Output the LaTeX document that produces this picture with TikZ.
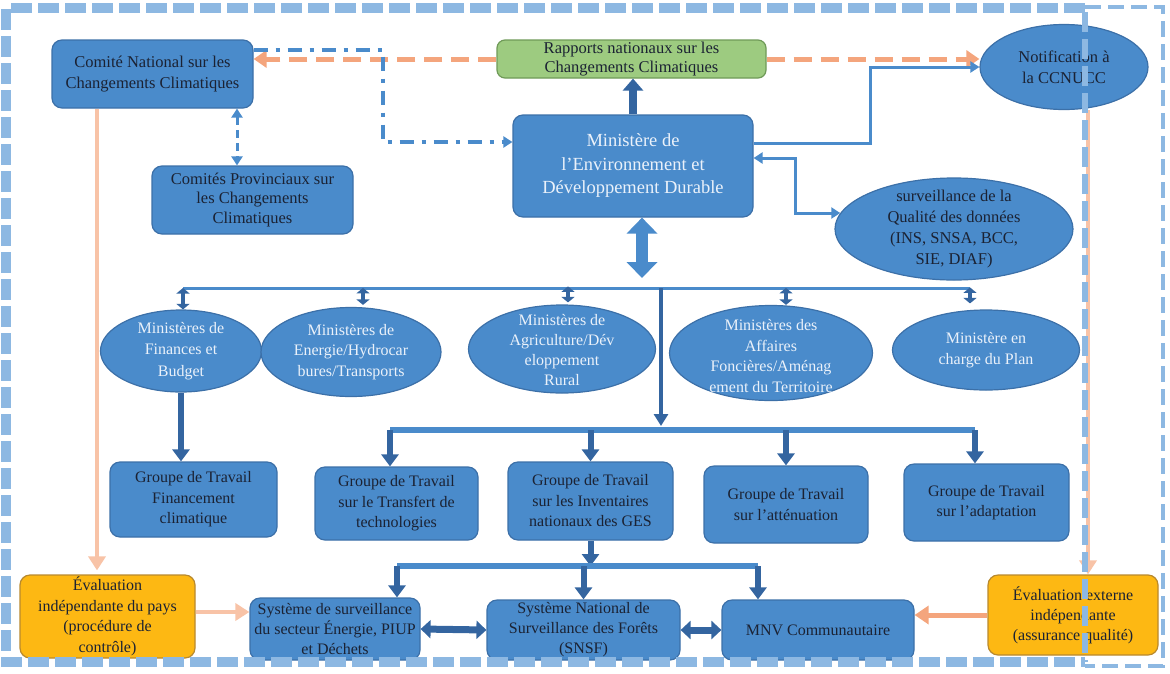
\documentclass[tikz,border=0pt]{standalone}
\usepackage{fontspec}
\setmainfont{Liberation Serif}
\usetikzlibrary{arrows.meta,shapes.geometric,calc}
\definecolor{boxblue}{HTML}{4A8BCB}
\definecolor{boxedge}{HTML}{3C70A8}
\definecolor{arrdark}{HTML}{3465A0}
\definecolor{lineblue}{HTML}{4A8BCB}
\definecolor{greenfill}{HTML}{9DCB80}
\definecolor{greenedge}{HTML}{6F9A58}
\definecolor{orfill}{HTML}{FDB813}
\definecolor{oredge}{HTML}{B8892E}
\definecolor{salmon}{HTML}{F4A57D}
\definecolor{lsalmon}{HTML}{F8C3A7}
\definecolor{framecol}{HTML}{8DB8E2}
\definecolor{tdark}{HTML}{1B2233}
\definecolor{tlight}{HTML}{EAF1FA}
\newcommand\myfontA{\fontsize{16.5}{21}\selectfont}
\newcommand\myfontB{\fontsize{18.5}{23.5}\selectfont}
\newcommand\myfontC{\fontsize{16}{20.5}\selectfont}
\begin{document}
\begin{tikzpicture}[x=1pt,y=-1pt,
 bx/.style={rectangle, rounded corners=10pt, fill=boxblue, draw=boxedge, line width=1.2pt, inner sep=0pt, align=center, text=tdark, font=\myfontC},
 el/.style={ellipse, fill=boxblue, draw=boxedge, line width=1.2pt, inner sep=0pt},
 etxt/.style={inner sep=0pt, align=center, text=tlight, font=\myfontC},
 odash/.style={draw=salmon, line width=5pt, dash pattern=on 18pt off 9pt, -{Triangle[width=17pt,length=13pt]}},
 ddot/.style={draw=lineblue, line width=3.5pt, dash pattern=on 14pt off 8pt on 4pt off 8pt, -{Triangle[width=11pt,length=9pt]}},
 bdash/.style={draw=lineblue, line width=3pt, dash pattern=on 8pt off 5pt, {Triangle[width=11pt,length=9pt]}-{Triangle[width=11pt,length=9pt]}},
 blk/.style={draw=arrdark, line width=8pt, -{Triangle[width=20pt,length=12pt]}},
 bline/.style={draw=lineblue, line width=3pt, -{Triangle[width=11pt,length=9pt]}},
 bline2/.style={draw=lineblue, line width=3pt, {Triangle[width=11pt,length=9pt]}-{Triangle[width=11pt,length=9pt]}},
 bigdbl/.style={draw=boxblue, line width=12pt, {Triangle[width=30pt,length=16pt]}-{Triangle[width=30pt,length=16pt]}},
 bus1/.style={draw=lineblue, line width=3pt},
 bus2/.style={draw=boxblue, line width=5.5pt},
 sdbl/.style={draw=arrdark, line width=4.5pt, {Triangle[width=13pt,length=5.5pt]}-{Triangle[width=13pt,length=5.5pt]}},
 darrow/.style={draw=arrdark, line width=6pt, -{Triangle[width=17pt,length=12pt]}},
 vline/.style={draw=arrdark, line width=4pt, -{Triangle[width=14pt,length=12pt]}},
 hdbl/.style={draw=arrdark, line width=7pt, {Triangle[width=18pt,length=10pt]}-{Triangle[width=18pt,length=10pt]}},
 lsal/.style={draw=lsalmon, line width=4pt, -{Triangle[width=17pt,length=14pt]}},
 sal/.style={draw=salmon, line width=5pt, -{Triangle[width=18pt,length=14pt]}},
 framethick/.style={draw=framecol, line width=10pt, dash pattern=on 21pt off 6pt},
 framemid/.style={draw=framecol, line width=6pt, dash pattern=on 20pt off 7pt},
 framethin/.style={draw=framecol, line width=4.5pt, dash pattern=on 16pt off 7pt}
]
\useasboundingbox (0,0) rectangle (1170,673);

% ---------- nodes ----------
\node[bx, font=\myfontA, minimum width=201pt, minimum height=68pt] (cnc) at (152.5,74) {Comité National sur les\\Changements Climatiques};
\node[bx, font=\myfontA, fill=greenfill, draw=greenedge, rounded corners=8pt, minimum width=269pt, minimum height=38pt] (rap) at (631.5,59) {Rapports nationaux sur les\\[-2pt]Changements Climatiques};
\node[el, minimum width=168pt, minimum height=85pt] (notif) at (1064,67) {};
\node[etxt, text=tdark, font=\myfontA] (notift) at (notif) {Notification à\\la CCNUCC};
\node[bx, font=\myfontB, text=tlight, minimum width=240pt, minimum height=102pt] (menv) at (633,166) {Ministère de\\l’Environnement et\\Développement Durable};
\node[bx, font=\fontsize{16.5}{19.5}\selectfont, minimum width=201pt, minimum height=68pt] (cpc) at (252.5,200) {Comités Provinciaux sur\\les Changements\\Climatiques};
\node[el, minimum width=238pt, minimum height=102pt] (surv) at (954,229) {};
\node[etxt, text=tdark, font=\fontsize{16.5}{21.3}\selectfont] (survt) at (surv) {surveillance de la\\Qualité des données\\(INS, SNSA, BCC,\\SIE, DIAF)};

\node[el, minimum width=161pt, minimum height=82pt] (mfin) at (181,351) {};
\node[etxt, font=\fontsize{16}{21.5}\selectfont] (mfint) at (mfin) {Ministères de\\Finances et\\Budget};
\node[el, minimum width=180pt, minimum height=89pt] (mene) at (351,352) {};
\node[etxt] (menet) at (mene) {Ministères de\\Energie/Hydrocar\\bures/Transports};
\node[el, minimum width=187pt, minimum height=88pt] (magr) at (562,349) {};
\node[etxt, font=\fontsize{16}{20}\selectfont] (magrt) at (562,350) {Ministères de\\Agriculture/Dév\\eloppement\\Rural};
\node[el, minimum width=203pt, minimum height=95pt] (maff) at (771,353) {};
\node[etxt, font=\fontsize{16}{20.7}\selectfont] (mafft) at (771,356) {Ministères des\\Affaires\\Foncières/Aménag\\ement du Territoire};
\node[el, minimum width=187pt, minimum height=80pt] (mplan) at (986,350) {};
\node[etxt] (mplant) at (mplan) {Ministère en\\charge du Plan};

\node[bx, minimum width=167pt, minimum height=75pt] (gfin) at (193.5,499.5) {Groupe de Travail\\Financement\\climatique};
\node[bx, minimum width=163pt, minimum height=73pt] (gtra) at (396.5,503.5) {Groupe de Travail\\sur le Transfert de\\technologies};
\node[bx, minimum width=165pt, minimum height=78pt] (ginv) at (590.5,501) {Groupe de Travail\\sur les Inventaires\\nationaux des GES};
\node[bx, minimum width=164pt, minimum height=77pt] (gatt) at (786,504.5) {Groupe de Travail\\sur l’atténuation};
\node[bx, minimum width=165pt, minimum height=77pt] (gada) at (986.5,502.5) {Groupe de Travail\\sur l’adaptation};

\node[bx, fill=orfill, draw=oredge, minimum width=175pt, minimum height=83pt] (evi) at (107.5,616.5) {Évaluation\\indépendante du pays\\(procédure de\\contrôle)};
\node[bx, font=\fontsize{16}{20}\selectfont, minimum width=170pt, minimum height=62pt] (sss) at (335,629) {Système de surveillance\\du secteur Énergie, PIUP\\et Déchets};
\node[bx, font=\fontsize{16}{20}\selectfont, minimum width=193pt, minimum height=60pt] (snsf) at (583.5,630) {Système National de\\Surveillance des Forêts\\(SNSF)};
\node[bx, minimum width=192pt, minimum height=60pt] (mnv) at (818,630) {MNV Communautaire};
\node[bx, fill=orfill, draw=oredge, font=\fontsize{16}{20}\selectfont, minimum width=170pt, minimum height=80pt] (eve) at (1073,615) {Évaluation externe\\indépendante\\(assurance qualité)};

% ---------- connectors ----------
\draw[odash] (rap.west) -- (cnc.east |- rap.west);
\draw[odash] (rap.east) -- (notif.west |- rap.east);

\coordinate (dd1) at (383,50);
\coordinate (dd2) at (383,142);
\draw[ddot] (cnc.east |- dd1) -- (dd1) -- (dd2) -- (dd2 -| menv.west);

\coordinate (px) at (237,0);
\draw[bdash] (cnc.south -| px) -- (cpc.north -| px);

\draw[blk] (menv.north) -- (menv.north |- rap.south);

\coordinate (k1) at (870,143);
\draw[bline] (k1 -| menv.east) -- (k1) |- (notif.west);

\coordinate (k2) at (795,158);
\draw[bline2] (surv.172) -| (k2) -- (k2 -| menv.east);

\coordinate (dbl) at (642,278);
\draw[bigdbl] (dbl |- menv.south) -- (dbl);

\coordinate (bL) at (183,288);
\coordinate (bR) at (970,288);
\draw[bus1] (bL) -- (bR);
\draw[sdbl] (bL) -- (bL |- mfin.north);
\draw[sdbl] ($(mene.north)+(12,-19)$) -- ($(mene.north)+(12,-2)$);
\draw[sdbl] ($(magr.north)+(6,-18)$) -- ($(magr.north)+(6,-2)$);
\draw[sdbl] ($(maff.north)+(15,-17)$) -- ($(maff.north)+(15,0)$);
\draw[sdbl] ($(mplan.north)+(-16,-22)$) -- ($(mplan.north)+(-16,-6)$);

\coordinate (v1) at (661,288);
\coordinate (b2L) at (390,430);
\coordinate (b2R) at (975,430);
\draw[vline] (v1) -- ($(v1 |- b2L)+(0,-4)$);
\draw[bus2] (b2L) -- (b2R);
\draw[darrow] (b2L) -- (b2L |- gtra.north);
\draw[darrow] (ginv.north |- b2L) -- (ginv.north);
\draw[darrow] (gatt.north |- b2L) -- (gatt.north);
\draw[darrow] (b2R) -- (b2R |- gada.north);

\draw[darrow] (mfin.south) -- (mfin.south |- gfin.north);

\coordinate (b3L) at (397,566);
\coordinate (b3R) at (758,566);
\draw[darrow] (ginv.south) -- (ginv.south |- b3L);
\draw[bus2] (b3L) -- (b3R);
\draw[darrow] (b3L) -- (b3L |- sss.north);
\draw[darrow] (snsf.north |- b3L) -- (snsf.north);
\draw[darrow] (b3R) -- (b3R |- mnv.north);

\draw[hdbl] (sss.east) -- (snsf.west);
\draw[hdbl] (snsf.east) -- (mnv.west);

\coordinate (o1) at (97,0);
\draw[lsal] (cnc.south -| o1) -- ($(evi.north -| o1)+(0,-4)$);
\draw[lsal] (evi.east |- 0,612) -- (sss.west |- 0,612);
\draw[sal] (eve.west) -- (eve.west -| mnv.east);
\coordinate (o2) at (1088,0);
\draw[lsal] (notif.south -| o2) -- (eve.north -| o2);

% ---------- frame ----------
\draw[framethick] (1085,8) -- (6,8) -- (6,662) -- (1085,662);
\draw[framethin] (1085,7) -- (1163,7) -- (1163,666) -- (1085,666);
\draw[framemid] (1085,12) -- (1085,662);
\end{tikzpicture}
\end{document}
